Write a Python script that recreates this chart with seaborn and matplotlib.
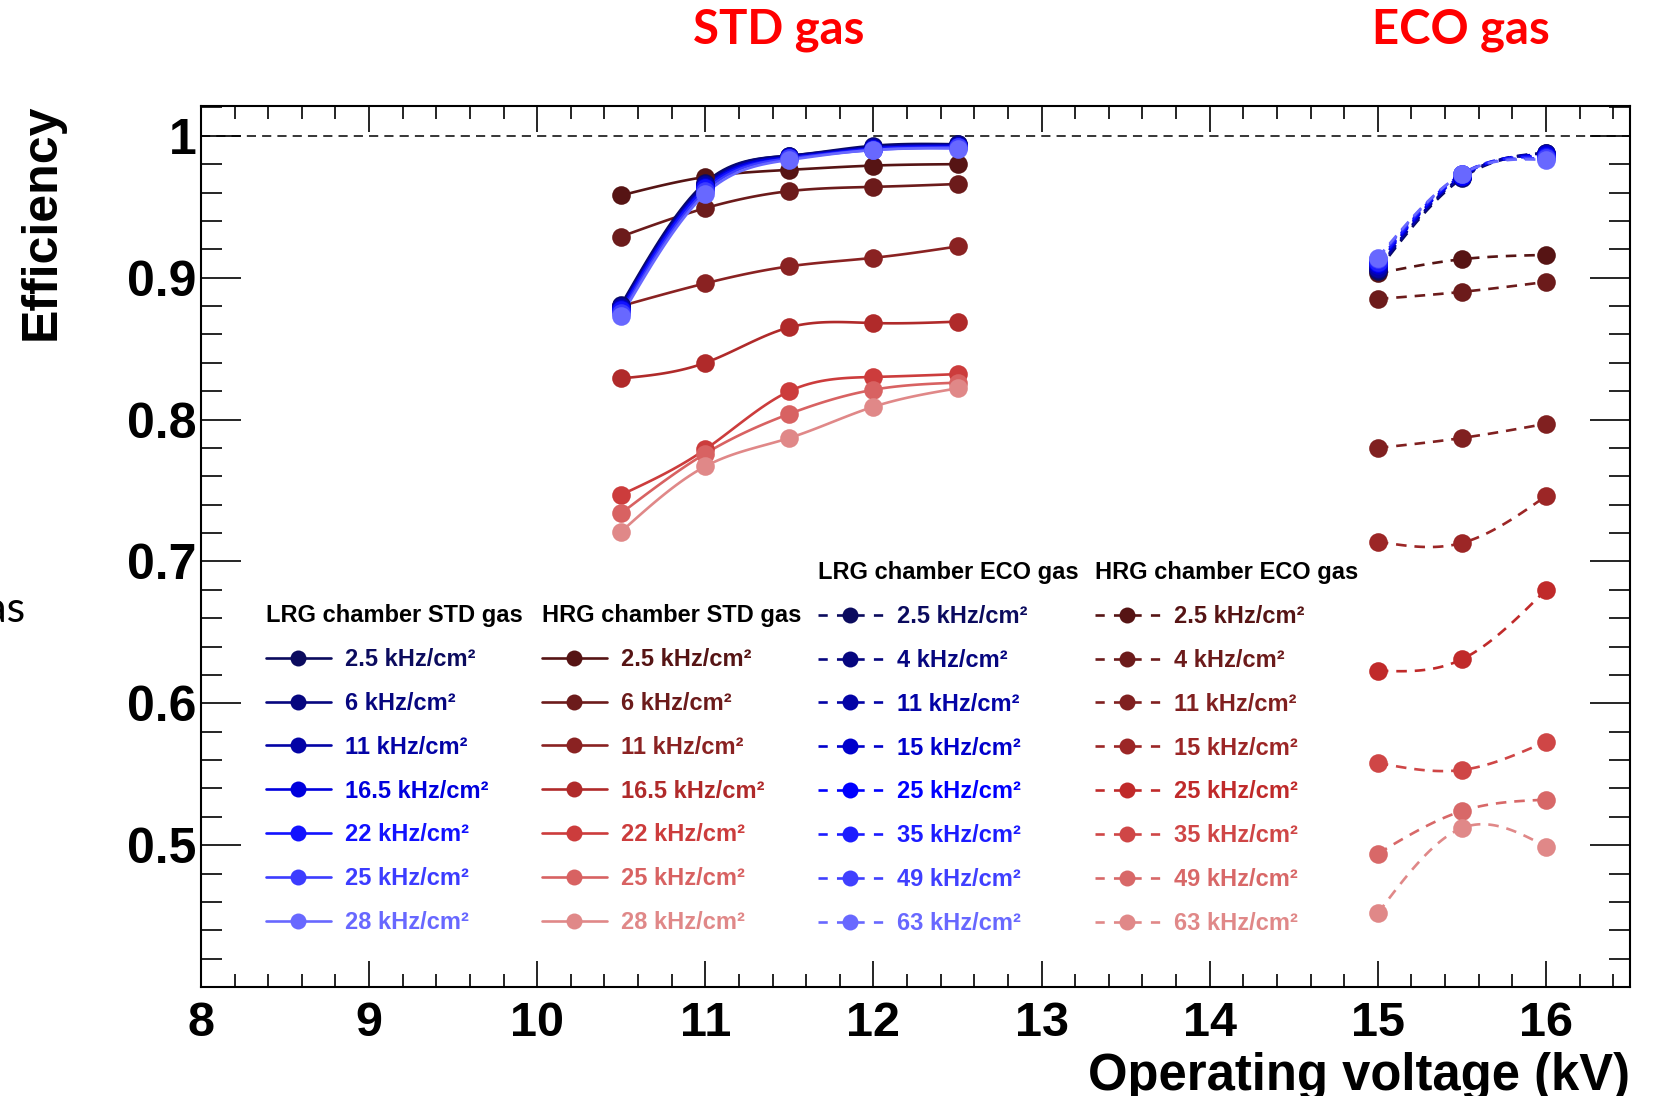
import numpy as np
import matplotlib
matplotlib.use("Agg")
import matplotlib.pyplot as plt
import seaborn as sns
from matplotlib.lines import Line2D
from matplotlib.font_manager import FontProperties
from matplotlib.ticker import MultipleLocator

# ---------------- data ----------------
std_voltage = [10.5, 11.0, 11.5, 12.0, 12.5]
eco_voltage = [15.0, 15.5, 16.0]

lrg_std_rates = ["2.5", "6", "11", "16.5", "22", "25", "28"]
lrg_std_eff = [
    [0.881, 0.967, 0.986, 0.993, 0.994],
    [0.880, 0.966, 0.986, 0.992, 0.994],
    [0.879, 0.965, 0.985, 0.992, 0.993],
    [0.878, 0.964, 0.985, 0.991, 0.993],
    [0.877, 0.963, 0.984, 0.991, 0.992],
    [0.875, 0.961, 0.984, 0.990, 0.992],
    [0.873, 0.959, 0.983, 0.990, 0.991],
]

hrg_std_rates = ["2.5", "6", "11", "16.5", "22", "25", "28"]
hrg_std_eff = [
    [0.958, 0.971, 0.976, 0.979, 0.980],
    [0.929, 0.949, 0.961, 0.964, 0.966],
    [0.880, 0.896, 0.908, 0.914, 0.922],
    [0.829, 0.840, 0.865, 0.868, 0.869],
    [0.747, 0.779, 0.820, 0.830, 0.832],
    [0.734, 0.776, 0.804, 0.821, 0.826],
    [0.721, 0.767, 0.787, 0.809, 0.822],
]

lrg_eco_rates = ["2.5", "4", "11", "15", "25", "35", "49", "63"]
lrg_eco_eff = [
    [0.905, 0.970, 0.988],
    [0.906, 0.971, 0.988],
    [0.907, 0.971, 0.987],
    [0.909, 0.972, 0.987],
    [0.910, 0.972, 0.986],
    [0.911, 0.973, 0.985],
    [0.913, 0.973, 0.984],
    [0.914, 0.973, 0.983],
]

hrg_eco_rates = ["2.5", "4", "11", "15", "25", "35", "49", "63"]
hrg_eco_eff = [
    [0.903, 0.913, 0.916],
    [0.885, 0.890, 0.897],
    [0.780, 0.787, 0.797],
    [0.714, 0.713, 0.746],
    [0.623, 0.631, 0.680],
    [0.558, 0.553, 0.573],
    [0.494, 0.524, 0.532],
    [0.452, 0.512, 0.499],
]

x_ticks = [8, 9, 10, 11, 12, 13, 14, 15, 16]
y_ticks = [0.5, 0.6, 0.7, 0.8, 0.9, 1.0]
y_tick_labels = ["0.5", "0.6", "0.7", "0.8", "0.9", "1"]

# ---------------- colours ----------------
blue_std = ["#0b0b5e", "#06067f", "#0303a6", "#0000dd", "#1212ff", "#3c3cff", "#6868ff"]
red_std = ["#561414", "#6c1b1b", "#8a2222", "#b02a2a", "#cc3c3c", "#d86262", "#e08888"]
blue_eco = ["#0b0b5e", "#06067f", "#0303a6", "#0000cc", "#0000ff", "#1c1cff", "#4040ff", "#6868ff"]
red_eco = ["#561414", "#6c1b1b", "#802020", "#9c2626", "#c02a2a", "#cf4646", "#d86868", "#e08888"]


def smooth(x, y, n=80):
    """Natural cubic spline through the measured points (for drawing only)."""
    x = np.asarray(x, float)
    y = np.asarray(y, float)
    k = len(x)
    h = np.diff(x)
    A = np.zeros((k, k))
    b = np.zeros(k)
    A[0, 0] = A[-1, -1] = 1.0
    for i in range(1, k - 1):
        A[i, i - 1] = h[i - 1]
        A[i, i] = 2 * (h[i - 1] + h[i])
        A[i, i + 1] = h[i]
        b[i] = 3 * ((y[i + 1] - y[i]) / h[i] - (y[i] - y[i - 1]) / h[i - 1])
    c = np.linalg.solve(A, b)
    bc = (y[1:] - y[:-1]) / h - h * (2 * c[:-1] + c[1:]) / 3
    d = (c[1:] - c[:-1]) / (3 * h)
    xs = np.linspace(x[0], x[-1], n)
    idx = np.clip(np.searchsorted(x, xs, side="right") - 1, 0, k - 2)
    dx = xs - x[idx]
    ys = y[idx] + bc[idx] * dx + c[idx] * dx ** 2 + d[idx] * dx ** 3
    return xs, ys


# ---------------- style ----------------
sns.set_style("white")
plt.rcParams["font.family"] = ["Liberation Sans", "DejaVu Sans"]
plt.rcParams["text.color"] = "black"
plt.rcParams["xtick.color"] = "black"
plt.rcParams["ytick.color"] = "black"
plt.rcParams["xtick.labelcolor"] = "black"
plt.rcParams["ytick.labelcolor"] = "black"

W, H = 1660, 1096
fig = plt.figure(figsize=(W / 100, H / 100), dpi=100)
ax = fig.add_axes([201 / W, 1 - 987 / H, (1630 - 201) / W, (987 - 106) / H])

LW = 1.9
DASH = (0, (4, 3))


def draw_group(volts, effs, colors, dashed):
    for eff, col in zip(effs, colors):
        xs, ys = smooth(volts, eff)
        sns.lineplot(x=xs, y=ys, ax=ax, color=col, lw=LW,
                     linestyle=DASH if dashed else "-",
                     estimator=None, sort=False, legend=False, zorder=2)
        sns.scatterplot(x=volts, y=eff, ax=ax, color=col, s=180,
                        linewidth=0, legend=False, zorder=3)


draw_group(std_voltage, hrg_std_eff, red_std, False)
draw_group(std_voltage, lrg_std_eff, blue_std, False)
draw_group(eco_voltage, hrg_eco_eff, red_eco, True)
draw_group(eco_voltage, lrg_eco_eff, blue_eco, True)

# full-efficiency reference line
ax.axhline(1.0, color="black", lw=1.1, linestyle=(0, (6, 4)), zorder=1)

ax.set_xlim(8, 16.5)
ax.set_ylim(0.4, 1.021)
ax.set_xticks(x_ticks)
ax.set_xticklabels([str(t) for t in x_ticks])
ax.set_yticks(y_ticks)
ax.set_yticklabels(y_tick_labels)
ax.xaxis.set_minor_locator(MultipleLocator(0.2))
ax.yaxis.set_minor_locator(MultipleLocator(0.02))
ax.set_xlabel("")
ax.set_ylabel("")

for sp in ax.spines.values():
    sp.set_visible(True)
    sp.set_color("black")
    sp.set_linewidth(1.5)

ax.tick_params(axis="y", which="major", direction="in", length=29, width=1.2,
               left=True, right=True, labelsize=36, pad=3, colors="black")
ax.tick_params(axis="y", which="minor", direction="in", length=15, width=1.2,
               left=True, right=True, colors="black")
ax.tick_params(axis="x", which="major", direction="in", length=19, width=1.2,
               bottom=True, top=True, labelsize=35, pad=10, colors="black")
ax.tick_params(axis="x", which="minor", direction="in", length=9.5, width=1.2,
               bottom=True, top=True, colors="black")
for lab in ax.get_xticklabels() + ax.get_yticklabels():
    lab.set_fontweight("bold")
    lab.set_color("black")

# axis titles
fig.text(42 / W, 1 - 104 / H, "Efficiency", rotation=90, ha="center", va="top",
         fontsize=36, fontweight="bold", color="black")
fig.text(1630 / W, 1 - 1090 / H, "Operating voltage (kV)", ha="right",
         va="baseline", fontsize=36.5, fontweight="bold", color="black")

# gas labels above the plot
fig.text(779 / W, 1 - 44 / H, "STD gas", ha="center", va="baseline",
         fontsize=34, fontweight="bold", color="#ff0000", family=["Lato", "DejaVu Sans"])
fig.text(1461 / W, 1 - 44 / H, "ECO gas", ha="center", va="baseline",
         fontsize=34, fontweight="bold", color="#ff0000", family=["Lato", "DejaVu Sans"])
fig.text(26 / W, 1 - 622 / H, "gas", ha="right", va="baseline",
         fontsize=31, color="black", family=["Lato", "DejaVu Sans"])

# ---------------- legends ----------------
fp = FontProperties(family="Liberation Sans", weight="bold", size=17)


def add_legend(title, rates, colors, dashed, x_px, y_px):
    handles = [Line2D([], [], color=c, lw=LW,
                      linestyle=(0, (3.5, 3.5)) if dashed else "-",
                      marker="o", markersize=11.5, markeredgewidth=0)
               for c in colors]
    labels = [f"{r} kHz/cm\u00b2" for r in rates]
    leg = fig.legend(handles, labels, title=title, loc="upper left",
                     bbox_to_anchor=(x_px / W, 1 - y_px / H),
                     bbox_transform=fig.transFigure, frameon=False,
                     borderpad=0, borderaxespad=0, handlelength=2.75,
                     handletextpad=0.6, labelspacing=0.885, alignment="left",
                     prop=fp, title_fontproperties=fp)
    for t, c in zip(leg.get_texts(), colors):
        t.set_color(c)
    leg.get_title().set_color("black")
    return leg


add_legend("LRG chamber STD gas", lrg_std_rates, blue_std, False, 266, 604)
add_legend("HRG chamber STD gas", hrg_std_rates, red_std, False, 542, 604)
add_legend("LRG chamber ECO gas", lrg_eco_rates, blue_eco, True, 818, 561)
add_legend("HRG chamber ECO gas", hrg_eco_rates, red_eco, True, 1095, 561)

fig.savefig("out.png", dpi=100)
